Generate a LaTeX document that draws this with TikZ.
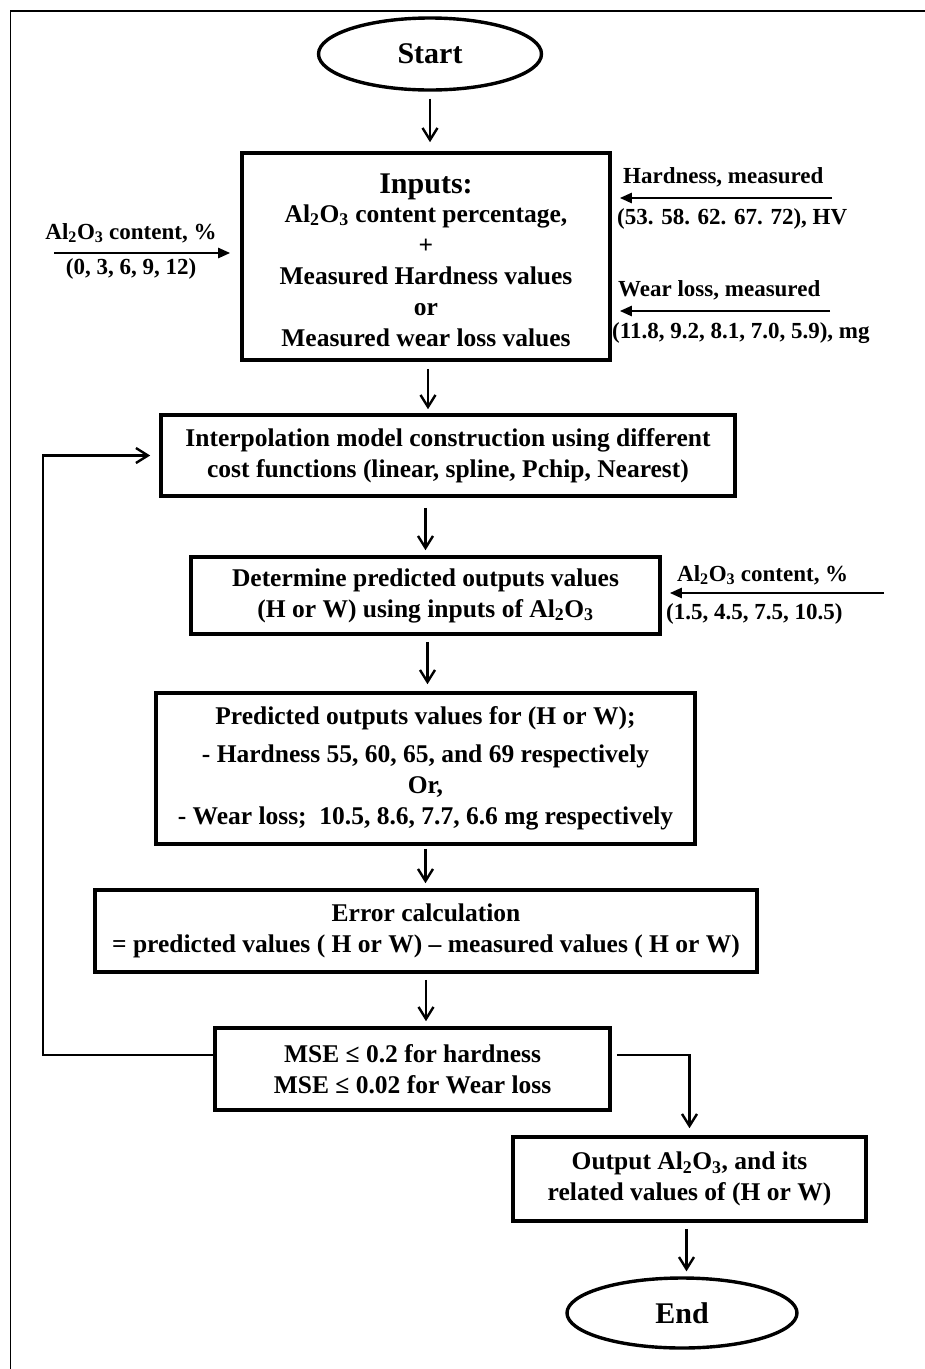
\documentclass[tikz,border=0pt]{standalone}
\usepackage{fontspec}
\setmainfont{Liberation Serif}
\usetikzlibrary{arrows.meta,shapes.geometric,calc}
\newcommand\boxfnt{\fontsize{25.5}{31}\selectfont\bfseries}
\newcommand\sidefnt{\fontsize{23}{27}\selectfont\bfseries}
\newcommand\bigfnt{\fontsize{30}{34}\selectfont\bfseries}
\newcommand\AlO{Al\textsubscript{2}O\textsubscript{3}}
\begin{document}
\begin{tikzpicture}[x=1pt,y=-1pt,
  box/.style={draw,line width=3.6pt,align=center,inner sep=0pt,font=\boxfnt},
  term/.style={draw,ellipse,line width=3.4pt,inner sep=0pt,font=\bigfnt},
  side/.style={inner sep=0pt,font=\sidefnt},
  arr/.style={-{Straight Barb[length=12pt,width=15pt,line width=2.4pt]},line width=2.6pt},
  sarr/.style={-{Triangle[length=12pt,width=10pt]},line width=2.4pt},
  frame/.style={line width=1.6pt}]
\useasboundingbox (0,0) rectangle (925,1369);
% partial frame
\coordinate (ftl) at (10.5,11);
\coordinate (ftr) at (925,11);
\coordinate (fbl) at (10.5,1369);
\draw[frame] (ftr) -- (ftl) -- (fbl);

% terminals
\node[term,minimum width=223pt,minimum height=72pt] (start) at (430,54) {Start};
\node[term,minimum width=230pt,minimum height=70pt] (end) at (682,1313) {End};

% boxes
\node[box,minimum width=368pt,minimum height=207pt] (inputs) at (426,256.5) {};
\node[inner sep=0pt,align=center,font=\boxfnt] (inputstxt) at (426,260)
  {{\bigfnt Inputs:}\\[-2pt] \AlO{} content percentage,\\ +\\ Measured Hardness values\\ or\\ Measured wear loss values};
\node[box,minimum width=574pt,minimum height=81pt] (interp) at (448,455.5)
  {Interpolation model construction using different\\ cost functions (linear, spline, Pchip, Nearest)};
\node[box,minimum width=469pt,minimum height=77pt] (det) at (425.5,595.5)
  {Determine predicted outputs values\\ (H or W) using inputs of \AlO};
\node[box,minimum width=539pt,minimum height=151pt] (pred) at (425.5,768.5)
  {Predicted outputs values for (H or W);\\[7pt] - Hardness 55, 60, 65, and 69 respectively\\ Or,\\ - Wear loss;\ \ 10.5, 8.6, 7.7, 6.6 mg respectively};
\node[box,minimum width=662pt,minimum height=82pt] (err) at (426,931)
  {Error calculation\\ = predicted values ( H or W) -- measured values ( H or W)};
\node[box,minimum width=395pt,minimum height=82pt] (mse) at (412.5,1069)
  {MSE ≤ 0.2 for hardness\\ MSE ≤ 0.02 for Wear loss};
\node[box,minimum width=353pt,minimum height=84pt] (out) at (689.5,1179)
  {Output \AlO, and its\\ related values of (H or W)};

% side inputs
\coordinate (lin) at (54,253);
\node[side] (l1) at (131,233) {\AlO{} content, \%};
\node[side] (l2) at (131,269) {(0, 3, 6, 9, 12)};
\draw[sarr,shorten >=10pt] (lin) -- (lin -| inputs.west);

\coordinate (rin1) at (832,198);
\node[side,anchor=west] (r1a) at (623,177) {Hardness, measured};
\node[side,anchor=west] (r1b) at (617,219) {(53. 58. 62. 67. 72), HV};
\draw[sarr,shorten >=8pt] (rin1) -- (rin1 -| inputs.east);

\coordinate (rin2) at (830,311);
\node[side,anchor=west] (r2a) at (618,290) {Wear loss, measured};
\node[side,anchor=west] (r2b) at (612,333) {(11.8, 9.2, 8.1, 7.0, 5.9), mg};
\draw[sarr,shorten >=8pt] (rin2) -- (rin2 -| inputs.east);

\coordinate (rin3) at (884,593);
\node[side,anchor=west] (r3a) at (677,575) {\AlO{} content, \%};
\node[side,anchor=west] (r3b) at (666,614) {(1.5, 4.5, 7.5, 10.5)};
\draw[sarr,shorten >=8pt] (rin3) -- (rin3 -| det.east);

% main flow
\draw[arr,shorten <=7pt,shorten >=9pt] (start.south) -- (start.south |- inputs.north);
\draw[arr,shorten <=7pt,shorten >=4pt] ([xshift=2pt]inputs.south) -- ([xshift=2pt]inputs.south |- interp.north);
\draw[arr,shorten <=10pt,shorten >=5pt] (det.north |- interp.south) -- (det.north);
\draw[arr,shorten <=6pt,shorten >=7pt] ([xshift=2pt]det.south) -- ([xshift=2pt]det.south |- pred.north);
\draw[arr,shorten <=3pt,shorten >=5pt] (pred.south) -- (pred.south |- err.north);
\draw[arr,shorten <=6pt,shorten >=5pt] (err.south) -- (err.south |- mse.north);

% MSE to output
\draw[arr,shorten >=7pt] ([xshift=5pt,yshift=14pt]mse.east) -| (out.north);

% feedback loop
\coordinate (fbx) at (43,0);
\draw[arr,shorten >=9pt] ([yshift=14pt]mse.west) -| (fbx |- interp.west) -- (interp.west);

% output to end
\draw[arr,shorten <=6pt,shorten >=5pt] ([xshift=-3pt]out.south) -- ([xshift=-3pt]out.south |- end.north);
\end{tikzpicture}
\end{document}
